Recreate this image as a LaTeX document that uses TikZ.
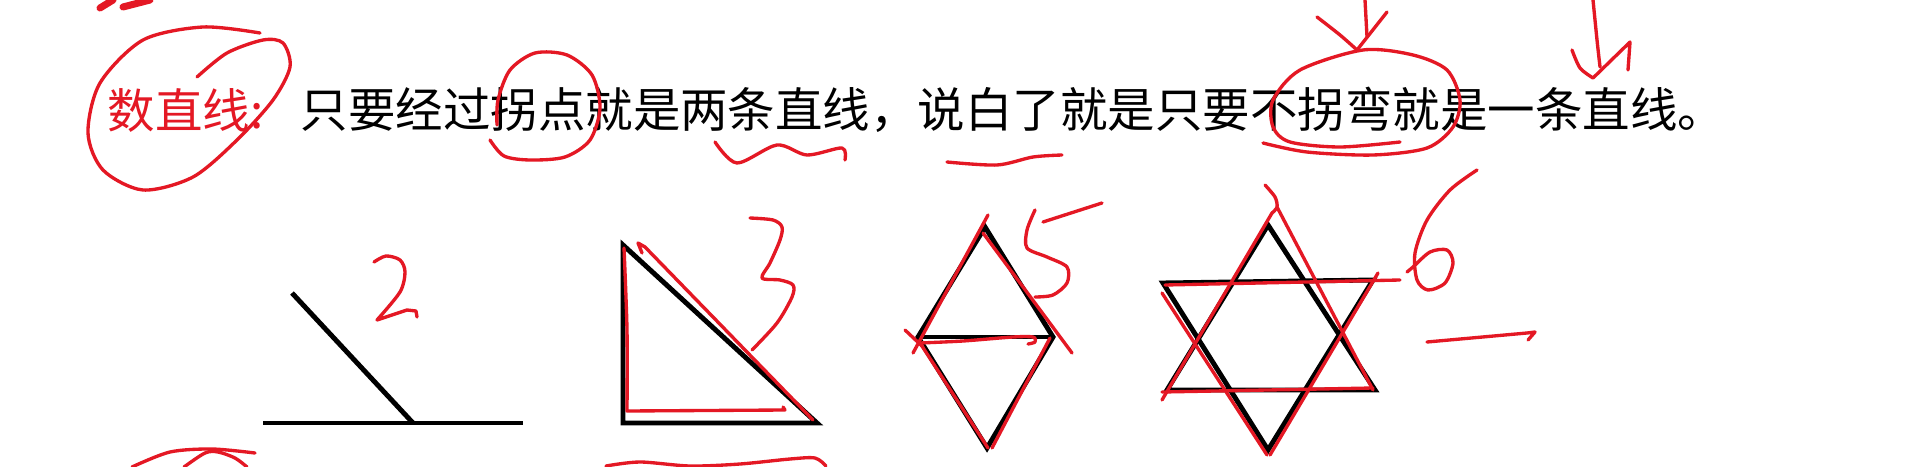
\documentclass[tikz,border=0pt]{standalone}
\usepackage{fontspec}
\newfontfamily\cjk{Noto Sans CJK SC}
\definecolor{pen}{RGB}{228,24,36}

\begin{document}
\begin{tikzpicture}[x=0.01cm, y=-0.01cm,
    figline/.style={black, line width=1.4pt},
    ink/.style={pen, line width=0.95pt, line cap=round, line join=round},
    words/.style={inner sep=0pt, anchor=west, font=\cjk\fontsize{13.5pt}{16pt}\selectfont}]
    \fill[white] (0,0) rectangle (1928,467);
    \useasboundingbox (0,0) rectangle (1928,467);
    % Below nodes are the text line.
        \node[words, pen] (head) at (107,110) {数直线:};
        \node[words] (rule) at (300,110) {只要经过拐点就是两条直线，说白了就是只要不拐弯就是一条直线。};
    % The four figures in black.
        \draw[figline] (263,423) -- (523,423);
        \draw[figline] (292,293) -- (413,423);
        \draw[figline] (623,245) -- (623,423) -- (817,423) -- cycle;
        \draw[figline] (985,227) -- (918,337) -- (987,448) -- (1053,337) -- cycle;
        \draw[figline] (918,337) -- (1053,337);
        \draw[figline] (1268,225) -- (1167,390) -- (1375,390) -- cycle;
        \draw[figline] (1163,283) -- (1373,280) -- (1268,450) -- cycle;
    % Red pen marks round the text.
        \draw[pen, line width=2pt, line cap=round] (100,8) -- (113,0) (123,7) -- (150,0);
        \draw[ink] plot[smooth] coordinates {(260,33) (203,27) (143,40) (100,83) (88,133) (103,170) (143,190) (193,177) (237,140) (273,100) (290,67) (283,43) (263,40) (227,53) (197,77)};
        \draw[ink] plot[smooth] coordinates {(490,140) (504,156) (530,160) (565,157) (590,140) (600,108) (592,75) (567,55) (535,53) (510,70) (498,100) (497,125)};
        \draw[ink] plot[smooth] coordinates {(715,142) (737,163) (777,145) (807,155) (842,148) (845,160)};
        \draw[ink] plot[smooth] coordinates {(947,162) (997,165) (1033,157) (1062,155)};
        \draw[ink] plot[smooth] coordinates {(1400,142) (1340,147) (1290,142) (1273,127) (1273,100) (1300,70) (1363,50) (1413,55) (1447,70) (1460,100) (1453,127) (1427,148) (1373,155) (1307,152) (1263,143)};
        \draw[ink] (1365,0) -- (1367,37);
        \draw[ink] plot[smooth] coordinates {(1317,17) (1340,35) (1357,50)} -- (1387,12);
        \draw[ink] plot[smooth] coordinates {(1593,0) (1597,40) (1600,67)};
        \draw[ink] plot[smooth] coordinates {(1572,50) (1580,68) (1593,78)} -- (1630,42) -- (1628,70);
    % Red pen marks on the figures.
        \draw[ink] plot[smooth] coordinates {(374,262) (386,256) (400,260) (405,272) (400,292) (377,320)} -- (407,310) -- (416,311) -- (417,317);
        \draw[ink] plot[smooth] coordinates {(624,248) (627,330) (627,411)} -- (785,410) -- (783,407);
        \draw[ink] (642,253) -- (638,243) -- (645,247) -- (813,420);
        \draw[ink] plot[smooth] coordinates {(750,218) (773,220) (782,227) (780,240) (770,263) (762,278) (780,280) (793,285) (792,297) (777,323) (752,350)};
        \draw[ink] (913,353) -- (988,215);
        \draw[ink] (983,233) -- (1072,353);
        \draw[ink] (905,330) -- (923,347);
        \draw[ink] (920,343) -- (988,448);
        \draw[ink] (992,448) -- (1050,338);
        \draw[ink] plot[smooth] coordinates {(920,343) (963,341) (1013,337) (1033,337) (1035,342) (1028,344)};
        \draw[ink] (1043,222) -- (1102,203);
        \draw[ink] plot[smooth] coordinates {(1035,210) (1027,230) (1027,248) (1047,257) (1067,267) (1067,283) (1053,295) (1035,297)};
        \draw[ink] plot[smooth] coordinates {(1265,185) (1275,197) (1277,207) (1272,213)};
        \draw[ink] (1277,207) -- (1373,390);
        \draw[ink] (1272,213) -- (1162,400);
        \draw[ink] (1162,392) -- (1373,388);
        \draw[ink] (1165,285) -- (1400,280);
        \draw[ink] (1162,293) -- (1267,455);
        \draw[ink] (1270,455) -- (1378,273);
        \draw[ink] plot[smooth] coordinates {(1477,170) (1450,190) (1427,220) (1415,253) (1417,280) (1428,290) (1445,283) (1453,263) (1447,250) (1430,252) (1413,267) (1407,272)};
        \draw[ink] (1427,342) -- (1527,333) -- (1535,332) -- (1528,340);
    % Cut-off marks along the bottom edge.
        \draw[ink] plot[smooth] coordinates {(132,467) (170,452) (212,449) (255,453)};
        \draw[ink] plot[smooth] coordinates {(184,467) (205,453) (218,452) (235,458) (247,467)};
        \draw[ink] plot[smooth] coordinates {(606,466) (640,462) (690,466) (740,464) (790,459) (815,458) (826,466)};
\end{tikzpicture}
\end{document}
